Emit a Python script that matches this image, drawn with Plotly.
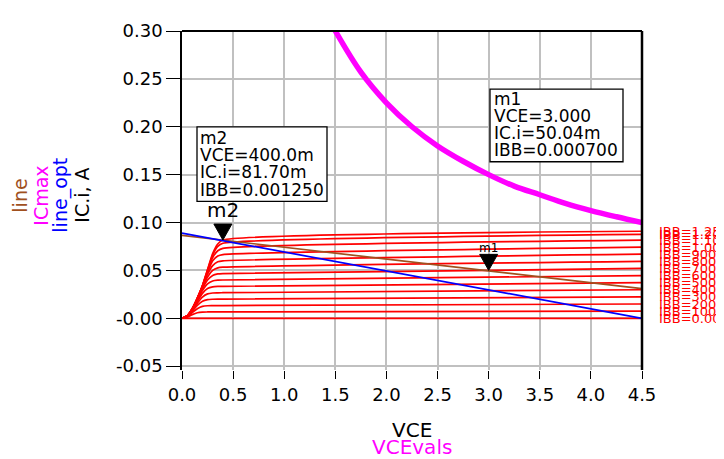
import plotly.graph_objects as go

# ---------------- data ----------------
vce_pts = [0.0, 0.05, 0.1, 0.15, 0.2, 0.25, 0.3, 0.35, 0.4, 4.5]

ibb_vals = [0.0, 0.1e-3, 0.2e-3, 0.3e-3, 0.4e-3, 0.5e-3, 0.6e-3, 0.7e-3,
            0.8e-3, 0.9e-3, 1.0e-3, 1.1e-3, 1.2e-3, 1.25e-3]
ibb_labels = ["IBB=0.000", "IBB=100.0E-6", "IBB=200.0E-6", "IBB=300.0E-6",
              "IBB=400.0E-6", "IBB=500.0E-6", "IBB=600.0E-6", "IBB=700.0E-6",
              "IBB=800.0E-6", "IBB=900.0E-6", "IBB=1.000E-3", "IBB=1.100E-3",
              "IBB=1.200E-3", "IBB=1.250E-3"]

ic_ibb_000 = [0, 0, 0, 0, 0, 0, 0, 0, 0, 0]
ic_ibb_010 = [0, 0.0012, 0.0038, 0.0058, 0.0065, 0.0066, 0.0066, 0.0067, 0.0067, 0.0075]
ic_ibb_020 = [0, 0.0018, 0.0060, 0.0100, 0.0124, 0.0131, 0.0132, 0.0133, 0.0133, 0.0149]
ic_ibb_030 = [0, 0.0021, 0.0072, 0.0135, 0.0178, 0.0195, 0.0199, 0.0200, 0.0200, 0.0224]
ic_ibb_040 = [0, 0.0023, 0.0080, 0.0158, 0.0222, 0.0255, 0.0264, 0.0266, 0.0267, 0.0298]
ic_ibb_050 = [0, 0.0024, 0.0086, 0.0175, 0.0260, 0.0310, 0.0328, 0.0333, 0.0334, 0.0372]
ic_ibb_060 = [0, 0.0024, 0.0090, 0.0188, 0.0290, 0.0360, 0.0390, 0.0398, 0.0400, 0.0446]
ic_ibb_070 = [0, 0.0025, 0.0093, 0.0196, 0.0310, 0.0400, 0.0448, 0.0463, 0.0467, 0.0521]
ic_ibb_080 = [0, 0.0025, 0.0095, 0.0202, 0.0323, 0.0430, 0.0500, 0.0527, 0.0534, 0.0595]
ic_ibb_090 = [0, 0.0025, 0.0097, 0.0206, 0.0331, 0.0460, 0.0550, 0.0590, 0.0600, 0.0669]
ic_ibb_100 = [0, 0.0025, 0.0098, 0.0208, 0.0336, 0.0480, 0.0600, 0.0650, 0.0665, 0.0743]
ic_ibb_110 = [0, 0.0025, 0.0099, 0.0209, 0.0339, 0.0495, 0.0635, 0.0705, 0.0730, 0.0817]
ic_ibb_120 = [0, 0.0025, 0.0100, 0.0210, 0.0340, 0.0505, 0.0660, 0.0750, 0.0783, 0.0876]
ic_ibb_125 = [0, 0.0025, 0.0100, 0.0210, 0.0340, 0.0510, 0.0675, 0.0775, 0.0817, 0.0909]

ic_curves = [ic_ibb_000, ic_ibb_010, ic_ibb_020, ic_ibb_030, ic_ibb_040,
             ic_ibb_050, ic_ibb_060, ic_ibb_070, ic_ibb_080, ic_ibb_090,
             ic_ibb_100, ic_ibb_110, ic_ibb_120, ic_ibb_125]

line_vce = [0.0, 4.5]
line_ic = [0.0865, 0.031]

line_opt_vce = [0.0, 4.5]
line_opt_ic = [0.089, 0.0]

vce_vals = [1.45, 1.5, 1.75, 2.0, 2.25, 2.5, 2.75, 3.0, 3.25, 3.5, 3.75, 4.0, 4.25, 4.5]
ic_max = [0.310, 0.300, 0.257, 0.225, 0.200, 0.180, 0.164, 0.150, 0.138,
          0.129, 0.120, 0.1125, 0.106, 0.100]

m1_point = (3.0, 0.05004)
m2_point = (0.4, 0.0817)
m1_text = ["m1", "VCE=3.000", "IC.i=50.04m", "IBB=0.000700"]
m2_text = ["m2", "VCE=400.0m", "IC.i=81.70m", "IBB=0.001250"]

x_ticks = [0.0, 0.5, 1.0, 1.5, 2.0, 2.5, 3.0, 3.5, 4.0, 4.5]
x_ticktext = ["0.0", "0.5", "1.0", "1.5", "2.0", "2.5", "3.0", "3.5", "4.0", "4.5"]
y_ticks = [-0.05, 0.0, 0.05, 0.10, 0.15, 0.20, 0.25, 0.30]
y_ticktext = ["-0.05", "-0.00", "0.05", "0.10", "0.15", "0.20", "0.25", "0.30"]

# ---------------- styling / layout ----------------
OFF = 8                          # page body margin of the browser
W, H = 724 - OFF, 459 - OFF
L, R, T, B = 182, 642, 20, 370   # plot area in window pixels
FONT = "DejaVu Sans"
RED, BROWN, BLUE, MAG = "#ff0000", "#a0501e", "#0000ff", "#ff00ff"


def px(xp, yp):
    return (xp - L) / (R - L), (B - yp) / (B - T)


fig = go.Figure()

for ic in ic_curves:
    fig.add_trace(go.Scatter(x=vce_pts, y=ic, mode="lines",
                             line=dict(color=RED, width=1.7, shape="spline", smoothing=0.6),
                             hoverinfo="skip"))

fig.add_trace(go.Scatter(x=line_vce, y=line_ic, mode="lines",
                         line=dict(color=BROWN, width=1.7)))
fig.add_trace(go.Scatter(x=line_opt_vce, y=line_opt_ic, mode="lines",
                         line=dict(color=BLUE, width=1.7)))
fig.add_trace(go.Scatter(x=vce_vals, y=ic_max, mode="lines",
                         line=dict(color=MAG, width=5.5, shape="spline", smoothing=1.0)))

annotations = []
shapes = []

# right-side IBB labels at curve ends
for lab, ic in zip(ibb_labels, ic_curves):
    annotations.append(dict(x=(657 - L) / (R - L), xref="paper", y=ic[-1], yref="y",
                            text=lab, showarrow=False, xanchor="left", yanchor="middle",
                            font=dict(family=FONT, size=13, color=RED)))

# marker triangles (tip at the data point)
for pt in (m1_point, m2_point):
    shapes.append(dict(type="path", xref="x", yref="y", xsizemode="pixel", ysizemode="pixel",
                       xanchor=pt[0], yanchor=pt[1], path="M -9,16 L 9,16 L 0,0 Z",
                       fillcolor="black", line=dict(color="black", width=1)))

annotations.append(dict(x=m2_point[0], y=m2_point[1], xref="x", yref="y", text="m2",
                        showarrow=False, yanchor="bottom", yshift=16,
                        font=dict(family=FONT, size=20, color="black")))
annotations.append(dict(x=m1_point[0], y=m1_point[1], xref="x", yref="y", text="m1",
                        showarrow=False, yanchor="bottom", yshift=13,
                        font=dict(family=FONT, size=12, color="black")))


# marker readout boxes
def readout(lines, x0, y0, x1, y1, tx, ty0, dy):
    a, b = px(x0, y0)
    c, d = px(x1, y1)
    shapes.append(dict(type="rect", xref="paper", yref="paper", x0=a, y0=b, x1=c, y1=d,
                       fillcolor="white", line=dict(color="black", width=1.3), layer="above"))
    for i, t in enumerate(lines):
        xx, yy = px(tx, ty0 + i * dy)
        annotations.append(dict(x=xx, y=yy, xref="paper", yref="paper", text=t,
                                showarrow=False, xanchor="left", yanchor="middle",
                                font=dict(family=FONT, size=17, color="black")))


readout(m2_text, 197, 119, 327, 196, 198, 130, 18)
readout(m1_text, 490, 80, 623, 155, 492, 90, 17.5)

# frame lines (top and right)
shapes.append(dict(type="line", xref="paper", yref="paper", x0=0, x1=1, y0=1, y1=1,
                   line=dict(color="black", width=2)))
shapes.append(dict(type="line", xref="paper", yref="paper", x0=1, x1=1, y0=0, y1=1,
                   line=dict(color="black", width=2.5)))

# rotated y titles
for xp, t, col in [(20, "line", BROWN), (41, "ICmax", MAG), (61, "line_opt", BLUE),
                   (82, "IC.i, A", "black")]:
    xx, yy = px(xp, 190)
    annotations.append(dict(x=xx, y=yy, xref="paper", yref="paper", text=t, textangle=-90,
                            showarrow=False, xanchor="center", yanchor="middle",
                            font=dict(family=FONT, size=19, color=col)))

# x titles
for yp, t, col in [(432, "VCE", "black"), (450, "VCEvals", MAG)]:
    xx, yy = px(412, yp)
    annotations.append(dict(x=xx, y=yy, xref="paper", yref="paper", text=t,
                            showarrow=False, xanchor="center", yanchor="middle",
                            font=dict(family=FONT, size=20, color=col)))

fig.update_layout(
    width=W, height=H,
    margin=dict(l=L - OFF, r=724 - R, t=T - OFF, b=459 - B, pad=0),
    paper_bgcolor="white", plot_bgcolor="white",
    showlegend=False,
    annotations=annotations, shapes=shapes,
    xaxis=dict(range=[0, 4.5], tickvals=x_ticks, ticktext=x_ticktext,
               ticks="outside", ticklen=8, tickcolor="black", tickwidth=1,
               showgrid=True, gridcolor="#c0c0c0", gridwidth=1.5,
               zeroline=False, showline=False,
               tickfont=dict(family=FONT, size=18, color="black")),
    yaxis=dict(range=[-0.054, 0.30], tickvals=y_ticks, ticktext=y_ticktext,
               ticks="outside", ticklen=14, tickcolor="black", tickwidth=1,
               showgrid=True, gridcolor="#c0c0c0", gridwidth=1.5,
               zeroline=False, showline=True, linecolor="black", linewidth=1.5,
               tickfont=dict(family=FONT, size=18, color="black")),
)

fig.write_html("out.html")
